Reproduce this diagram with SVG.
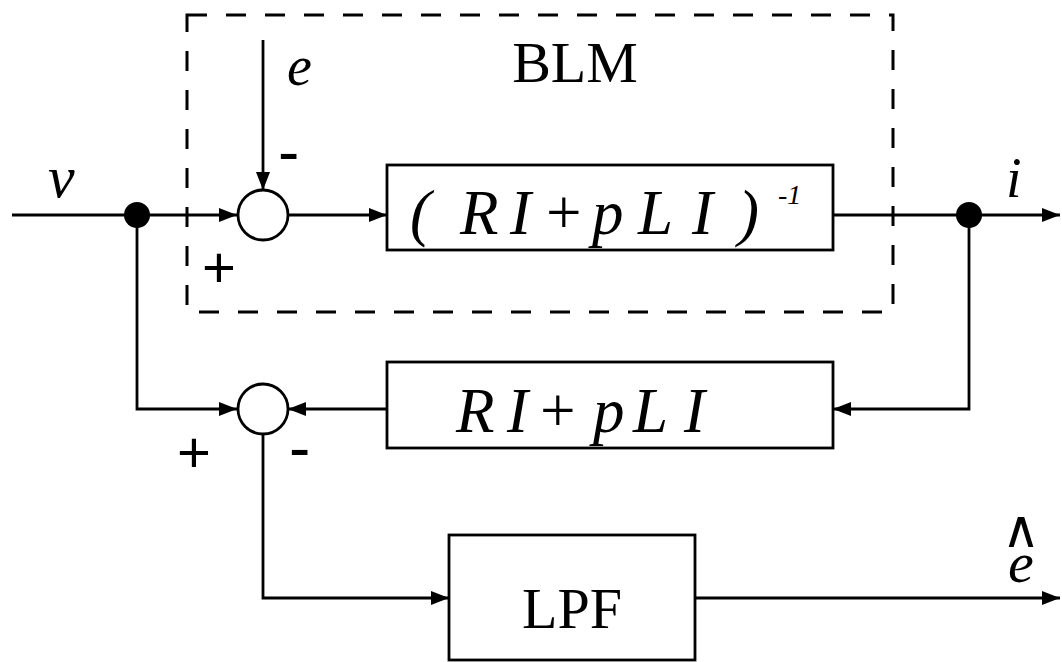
<svg xmlns="http://www.w3.org/2000/svg" width="1062" height="662" viewBox="0 0 1062 662">
<style>
.ln{fill:none;stroke:#000;stroke-width:2.8}
.box{fill:#fff;stroke:#000;stroke-width:2.8}
.dash{fill:none;stroke:#000;stroke-width:3;stroke-dasharray:20 19}
.it{font-family:"Liberation Serif","Times New Roman",serif;font-style:italic;fill:#000}
.rm{font-family:"Liberation Serif","Times New Roman",serif;fill:#000}
.sg{font-family:"Liberation Sans",Arial,sans-serif;fill:#000}
</style>
<defs>
<marker id="ah" markerWidth="18" markerHeight="14" refX="18" refY="7" orient="auto" markerUnits="userSpaceOnUse">
<path d="M0,0 L18,7 L0,14 Z" fill="#000"/>
</marker>
</defs>
<rect width="1062" height="662" fill="#fff"/>

<g id="blm-boundary">
<rect class="dash" x="187" y="15" width="706" height="297"/>
<text class="rm" x="575" y="82" font-size="58" text-anchor="middle">BLM</text>
</g>

<g id="connectors">
<path class="ln" d="M12,215 H237" marker-end="url(#ah)"/>
<path class="ln" d="M263,40 V190" marker-end="url(#ah)"/>
<path class="ln" d="M288,215 H387" marker-end="url(#ah)"/>
<path class="ln" d="M833,215 H1060" marker-end="url(#ah)"/>
<path class="ln" d="M969,215 V409 H833" marker-end="url(#ah)"/>
<path class="ln" d="M387,409 H288" marker-end="url(#ah)"/>
<path class="ln" d="M137,215 V409 H237" marker-end="url(#ah)"/>
<path class="ln" d="M263,434 V598 H449" marker-end="url(#ah)"/>
<path class="ln" d="M695,598 H1060" marker-end="url(#ah)"/>
</g>

<g id="junction-v"><circle cx="137" cy="215" r="13" fill="#000"/></g>
<g id="junction-i"><circle cx="969" cy="215" r="13" fill="#000"/></g>

<g id="sum1">
<circle class="box" cx="263" cy="215" r="25"/>
<text class="sg" x="278" y="174" font-size="64">-</text>
<text class="sg" x="202" y="287" font-size="58">+</text>
</g>

<g id="sum2">
<circle class="box" cx="263" cy="409" r="25"/>
<text class="sg" x="177" y="472" font-size="58">+</text>
<text class="sg" x="289" y="470" font-size="64">-</text>
</g>

<g id="block-inverse">
<rect class="box" x="387" y="165" width="446" height="85"/>
<text class="it" y="234" font-size="63" x="410 460 510 542 592 638 692 738">(RI+pLI)</text>
<text class="it" x="778" y="204" font-size="28">-1</text>
</g>

<g id="block-model">
<rect class="box" x="387" y="362" width="446" height="86"/>
<text class="it" y="432" font-size="63" x="456 507 536 593 633 684">RI+pLI</text>
</g>

<g id="block-lpf">
<rect class="box" x="449" y="535" width="246" height="125"/>
<text class="rm" x="572" y="628" font-size="58" text-anchor="middle">LPF</text>
</g>

<g id="labels">
<text class="it" x="48" y="197" font-size="60">v</text>
<text class="it" x="287" y="85" font-size="56">e</text>
<text class="it" x="1006" y="197" font-size="56">i</text>
<text class="it" x="1008" y="582" font-size="58">e</text>
<text font-family="DejaVu Sans,sans-serif" x="1021" y="547" font-size="52" text-anchor="middle">∧</text>
</g>
</svg>
